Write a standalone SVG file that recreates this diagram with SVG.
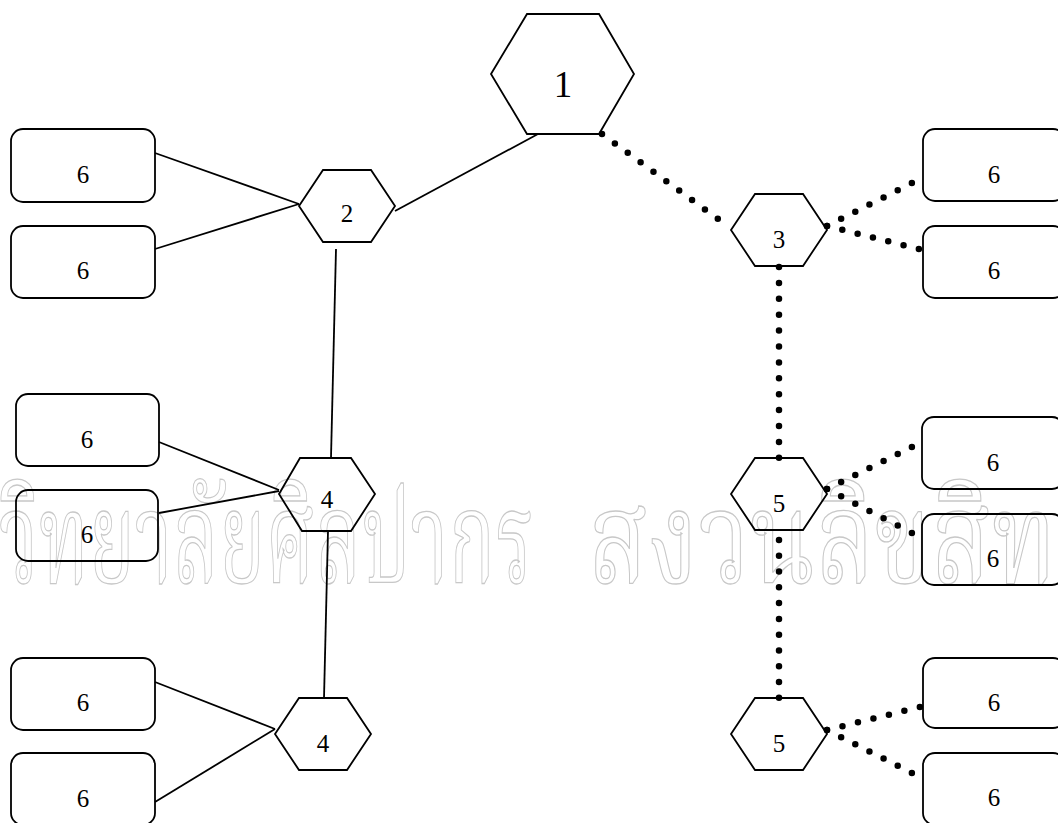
<svg xmlns="http://www.w3.org/2000/svg" width="1058" height="823" viewBox="0 0 1058 823">
<style>
.wm{font-family:"Noto Serif Thai","Noto Sans Thai","Loma","Garuda","Noto Sans",sans-serif;font-size:128px;fill:none;stroke:#c8c8c8;stroke-width:1.3}
.hx{fill:none;stroke:#000;stroke-width:1.8;stroke-linejoin:miter}
.bx{fill:none;stroke:#000;stroke-width:1.8}
.ln{stroke:#000;stroke-width:1.8;fill:none}
.dt{stroke:#000;stroke-width:6.5;stroke-linecap:round;fill:none}
.t{font-family:"Liberation Serif","Times New Roman",serif;font-size:25px;fill:#000;text-anchor:middle}
.tb{font-family:"Liberation Serif","Times New Roman",serif;font-size:37px;fill:#000;text-anchor:middle}
</style>
<rect width="1058" height="823" fill="#fff"/>
<g id="watermark">
<text class="wm" x="-138" y="583" textLength="672" lengthAdjust="spacingAndGlyphs">มหาวิทยาลัยศิลปากร</text>
<text class="wm" x="588" y="583" textLength="525" lengthAdjust="spacingAndGlyphs">สงวนลิขสิทธิ์</text>
</g>
<g id="connectors">
<line class="ln" x1="155" y1="153" x2="299" y2="204"/>
<line class="ln" x1="155" y1="249" x2="299" y2="204"/>
<line class="ln" x1="395" y1="211" x2="538" y2="134"/>
<line class="ln" x1="336" y1="249" x2="331" y2="458"/>
<line class="ln" x1="159" y1="442" x2="279" y2="490"/>
<line class="ln" x1="159" y1="513" x2="279" y2="491"/>
<line class="ln" x1="328" y1="531" x2="324" y2="698"/>
<line class="ln" x1="155" y1="682" x2="275" y2="729"/>
<line class="ln" x1="155" y1="802" x2="275" y2="729"/>
<line class="dt" x1="602" y1="134" x2="718" y2="219" stroke-dasharray="0 15.95"/>
<line class="dt" x1="827" y1="226" x2="912" y2="183" stroke-dasharray="0 15.85"/>
<line class="dt" x1="827" y1="226" x2="919" y2="249" stroke-dasharray="0 15.78"/>
<line class="dt" x1="779" y1="267" x2="779" y2="458" stroke-dasharray="0 15.9"/>
<line class="dt" x1="827" y1="489" x2="912" y2="447" stroke-dasharray="0 15.78"/>
<line class="dt" x1="827" y1="489" x2="912" y2="533" stroke-dasharray="0 15.93"/>
<line class="dt" x1="779" y1="540" x2="779" y2="698" stroke-dasharray="0 15.78"/>
<line class="dt" x1="827" y1="730" x2="920" y2="707" stroke-dasharray="0 15.94"/>
<line class="dt" x1="827" y1="730" x2="912" y2="773" stroke-dasharray="0 15.85"/>
</g>
<g id="n1"><polygon class="hx" points="491,74 527,14 599,14 634,74 599,134 527,134"/><text class="tb" x="563" y="97">1</text></g>
<g id="n2"><polygon class="hx" points="299,206 323,170 371,170 395,206 371,242 323,242"/><text class="t" x="347" y="222">2</text></g>
<g id="n3"><polygon class="hx" points="731,230 755,194 803,194 827,230 803,266 755,266"/><text class="t" x="779" y="248">3</text></g>
<g id="n4a"><polygon class="hx" points="279,494 300,458 351,458 375,494 351,531 302,531"/><text class="t" x="327" y="508">4</text></g>
<g id="n4b"><polygon class="hx" points="275,734 299,698 347,698 371,734 347,770 299,770"/><text class="t" x="323" y="752">4</text></g>
<g id="n5a"><polygon class="hx" points="731,494 755,458 803,458 827,494 803,530 755,530"/><text class="t" x="779" y="512">5</text></g>
<g id="n5b"><polygon class="hx" points="731,734 755,698 803,698 827,734 803,770 755,770"/><text class="t" x="779" y="752">5</text></g>
<g id="l1"><rect class="bx" x="11" y="129" width="144" height="73" rx="12"/><text class="t" x="83" y="183">6</text></g>
<g id="l2"><rect class="bx" x="11" y="226" width="144" height="72" rx="12"/><text class="t" x="83" y="279">6</text></g>
<g id="l3"><rect class="bx" x="16" y="394" width="143" height="72" rx="12"/><text class="t" x="87" y="448">6</text></g>
<g id="l4"><rect class="bx" x="16" y="490" width="142" height="71" rx="12"/><text class="t" x="87" y="543">6</text></g>
<g id="l5"><rect class="bx" x="11" y="658" width="144" height="72" rx="12"/><text class="t" x="83" y="711">6</text></g>
<g id="l6"><rect class="bx" x="11" y="753" width="144" height="72" rx="12"/><text class="t" x="83" y="807">6</text></g>
<g id="r1"><rect class="bx" x="923" y="129" width="142" height="72" rx="12"/><text class="t" x="994" y="183">6</text></g>
<g id="r2"><rect class="bx" x="923" y="226" width="142" height="72" rx="12"/><text class="t" x="994" y="279">6</text></g>
<g id="r3"><rect class="bx" x="922" y="417" width="142" height="72" rx="12"/><text class="t" x="993" y="471">6</text></g>
<g id="r4"><rect class="bx" x="922" y="514" width="142" height="71" rx="12"/><text class="t" x="993" y="567">6</text></g>
<g id="r5"><rect class="bx" x="923" y="658" width="142" height="70" rx="12"/><text class="t" x="994" y="711">6</text></g>
<g id="r6"><rect class="bx" x="923" y="753" width="142" height="72" rx="12"/><text class="t" x="994" y="806">6</text></g>
</svg>
